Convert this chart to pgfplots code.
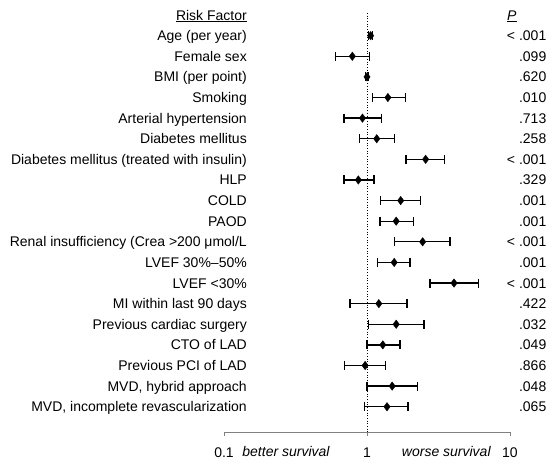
\documentclass[border=0pt]{standalone}
\usepackage{pgfplots}
\pgfplotsset{compat=1.18}
\usepackage{fontspec}
\setmainfont{Liberation Sans}
\begin{document}
\fontsize{14}{16}\selectfont
\begin{tikzpicture}
\path[use as bounding box] (0,0) rectangle (547pt,463pt);
\begin{axis}[
  at={(224pt,30.3pt)}, anchor=south west,
  scale only axis, width=286pt, height=423pt,
  xmode=log, xmin=0.1, xmax=10,
  ymin=-0.26, ymax=20.26,
  clip=false,
  axis line style={draw=none},
  xtick pos=bottom, ytick pos=left,
  xtick={0.1,1,10}, xticklabels={0.1,1,10}, minor xtick={},
  tick align=outside, major tick length=3pt,
  x tick style={draw=none},
  xticklabel style={anchor=north, inner sep=0pt, text height=10pt, text depth=0pt, yshift=-11.3pt, font=\fontsize{14}{16}\selectfont},
  ytick={1,...,20},
  ytick style={draw=none},
  yticklabels={{MVD, incomplete revascularization}, {MVD, hybrid approach}, Previous PCI of LAD, CTO of LAD, Previous cardiac surgery, MI within last 90 days, LVEF <30\%, LVEF 30\%–50\%, Renal insufficiency (Crea >200 μmol/L, PAOD, COLD, HLP, Diabetes mellitus (treated with insulin), Diabetes mellitus, Arterial hypertension, Smoking, BMI (per point), Female sex, Age (per year), \underline{Risk Factor}},
  yticklabel style={anchor=east, inner sep=0pt, xshift=26pt, text height=10pt, text depth=0pt, font=\fontsize{14}{16}\selectfont},
]
\addplot[black, dotted, line width=0.7pt] coordinates {(1,20.1) (1,-0.26)};
\addplot[black, line width=1.3pt, mark=|, mark size=4.5pt, mark options={solid}, unbounded coords=jump] table {
x y
1.03 19
1.09 19
nan nan
0.60 18
1.04 18
nan nan
0.98 17
1.02 17
nan nan
1.09 16
1.85 16
nan nan
0.69 15
1.27 15
nan nan
0.89 14
1.56 14
nan nan
1.87 13
3.49 13
nan nan
0.69 12
1.12 12
nan nan
1.24 11
2.37 11
nan nan
1.23 10
2.11 10
nan nan
1.56 9
3.80 9
nan nan
1.19 8
2.00 8
nan nan
2.76 7
6.00 7
nan nan
0.76 6
1.90 6
nan nan
1.03 5
2.50 5
nan nan
1.00 4
1.70 4
nan nan
0.70 3
1.34 3
nan nan
1.00 2
2.26 2
nan nan
0.96 1
1.94 1
};
\addplot[only marks, mark=diamond*, mark size=4.2pt, black] table {
x y
1.06 19
0.79 18
1.00 17
1.40 16
0.93 15
1.17 14
2.57 13
0.87 12
1.72 11
1.60 10
2.45 9
1.55 8
4.06 7
1.21 6
1.60 5
1.29 4
0.97 3
1.50 2
1.38 1
};
\begin{scope}[every node/.style={inner sep=0pt, text height=10pt, text depth=0pt}]
\node[anchor=west, xshift=-3pt] at (axis cs:10,20) {\underline{\textit{P}}};
\node[anchor=east, xshift=36.5pt] at (axis cs:10,19) {< .001};
\node[anchor=east, xshift=36.5pt] at (axis cs:10,18) {.099};
\node[anchor=east, xshift=36.5pt] at (axis cs:10,17) {.620};
\node[anchor=east, xshift=36.5pt] at (axis cs:10,16) {.010};
\node[anchor=east, xshift=36.5pt] at (axis cs:10,15) {.713};
\node[anchor=east, xshift=36.5pt] at (axis cs:10,14) {.258};
\node[anchor=east, xshift=36.5pt] at (axis cs:10,13) {< .001};
\node[anchor=east, xshift=36.5pt] at (axis cs:10,12) {.329};
\node[anchor=east, xshift=36.5pt] at (axis cs:10,11) {.001};
\node[anchor=east, xshift=36.5pt] at (axis cs:10,10) {.001};
\node[anchor=east, xshift=36.5pt] at (axis cs:10,9) {< .001};
\node[anchor=east, xshift=36.5pt] at (axis cs:10,8) {.001};
\node[anchor=east, xshift=36.5pt] at (axis cs:10,7) {< .001};
\node[anchor=east, xshift=36.5pt] at (axis cs:10,6) {.422};
\node[anchor=east, xshift=36.5pt] at (axis cs:10,5) {.032};
\node[anchor=east, xshift=36.5pt] at (axis cs:10,4) {.049};
\node[anchor=east, xshift=36.5pt] at (axis cs:10,3) {.866};
\node[anchor=east, xshift=36.5pt] at (axis cs:10,2) {.048};
\node[anchor=east, xshift=36.5pt] at (axis cs:10,1) {.065};
\end{scope}
\end{axis}
% bottom axis line with its three ticks (0.1, 1, 10 at 224pt, 367pt, 510pt)
\draw[black!50, line width=0.9pt] (224pt,27.3pt) -- (224pt,30.3pt) -- (510pt,30.3pt) -- (510pt,27.3pt);
\draw[black!50, line width=0.9pt] (367pt,30.3pt) -- (367pt,27.3pt);
\node[anchor=base, inner sep=0pt, font=\itshape] at (286pt,6pt) {better survival};
\node[anchor=base, inner sep=0pt, font=\itshape] at (446.3pt,6pt) {worse survival};
\end{tikzpicture}
\end{document}
